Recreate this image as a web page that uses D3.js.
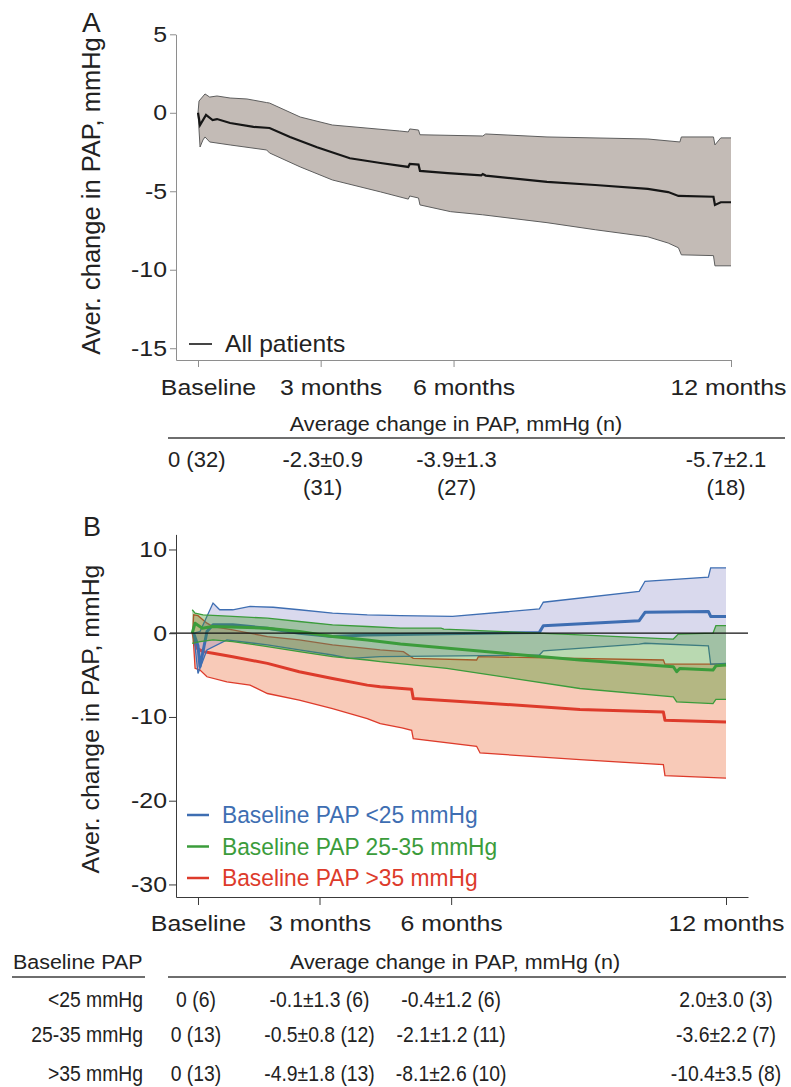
<!DOCTYPE html>
<html lang="en">
<head>
<meta charset="UTF-8">
<title>Average change in PAP</title>
<script src="https://cdn.jsdelivr.net/npm/d3@7"></script>
<style>
  body { margin: 0; background: #fff; }
  svg { display: block; }
</style>
</head>
<body>
<svg id="chart" width="791" height="1087"></svg>
<script>
// time axis, days since baseline
const tickDays = [0, 84, 175, 365];
const tickLabels = ["Baseline", "3 months", "6 months", "12 months"];
const yTicksA = [5, 0, -5, -10, -15];
const yTicksB = [10, 0, -10, -20, -30];

// panel A, all patients: [day, mmHg]
const allMean = [[0,0],[1.4,-0.78],[5.5,-0.14],[10,-0.46],[13,-0.4],[22,-0.65],[38,-0.9],[49,-0.97],[63,-1.54],[81.5,-2.2],[104,-2.9],[125,-3.2],[144,-3.45],[145,-3.26],[151,-3.3],[152,-3.7],[171,-3.84],[194,-3.98],[195,-3.9],[197,-4.0],[239,-4.4],[272,-4.6],[308,-4.85],[322,-5.05],[329,-5.3],[353,-5.35],[354,-5.87],[358,-5.7],[365,-5.7]];
const allUpper = [[0,0],[0.7,0.75],[4.8,1.2],[8,1.0],[13,1.07],[22,0.94],[33.5,0.88],[47,0.65],[49,0.62],[70,-0.27],[92,-0.78],[138,-1.16],[144,-1.22],[145,-1.03],[151,-1.1],[152,-1.4],[195,-1.48],[197,-1.35],[239,-1.54],[308,-1.67],[330,-1.86],[331,-1.54],[353,-1.54],[354,-2.05],[358,-1.6],[365,-1.6]];
const allLower = [[0,0],[1.4,-2.18],[3.4,-1.73],[4.8,-1.54],[8,-1.86],[22,-2.05],[47,-2.37],[49,-2.56],[70,-3.45],[92,-4.28],[125,-5.04],[144,-5.5],[145,-5.3],[151,-5.43],[152,-5.87],[173,-6.3],[195,-6.5],[239,-7.0],[272,-7.45],[308,-7.9],[322,-8.3],[329,-8.6],[331,-9.05],[353,-9.1],[354,-9.75],[365,-9.75]];

// panel B, by baseline PAP group: [day, mmHg]
const groupNames = ["Baseline PAP <25 mmHg", "Baseline PAP 25-35 mmHg", "Baseline PAP >35 mmHg"];
const lowUpper = [[-3,0],[1.4,0.2],[10.4,3.6],[15,2.8],[24,2.8],[36,3.2],[52,3.1],[70,2.8],[93,2.4],[117,2.2],[140,2.1],[176,2.0],[236,2.9],[238.7,3.7],[305,5.0],[309,6.2],[352.8,6.7],[354.4,7.8],[365,7.8]];
const lowMean = [[-3,0],[0,-1.5],[1.4,-4.0],[6.2,0.2],[10.4,1.0],[24,1.0],[48,0.6],[70,0],[93,-0.4],[117,-0.2],[236,0.1],[238.7,0.9],[305,1.5],[309,2.5],[352.8,2.6],[354.4,2.0],[365,2.0]];
const lowLower = [[-3,0],[0,-4.8],[6.2,-2.0],[20,-0.8],[48,-1.4],[70,-2.0],[93,-2.6],[105,-3.0],[126,-2.8],[236,-2.6],[238.7,-2.1],[305,-1.3],[309,-1.2],[352.8,-1.5],[354.4,-3.7],[365,-3.6]];
const midUpper = [[-4,2.8],[-2,2.4],[3.5,2.2],[24,2.0],[48,1.8],[70,1.4],[93,1.0],[117,0.8],[140,0.6],[168,0.6],[170,0.5],[264,-0.2],[328.6,-0.7],[332,-0.1],[356,0],[358,0.9],[365,0.9]];
const midMean = [[-4,0],[-2,1.2],[3,0.6],[10,0.8],[48,0.6],[70,0.2],[93,-0.4],[117,-0.8],[140,-1.3],[264,-3.2],[328.6,-4.0],[330.9,-4.6],[333,-4.2],[356,-4.4],[358,-3.9],[365,-3.8]];
const midLower = [[-4,-1.2],[1.4,-1.0],[10.4,-0.8],[24,-1.0],[48,-1.6],[70,-2.2],[93,-2.8],[117,-3.2],[126,-3.4],[172,-4.2],[264,-6.6],[328.6,-7.6],[330.9,-8.2],[356,-8.4],[358,-7.9],[365,-7.9]];
const highUpper = [[-3.5,0.5],[-3,2.2],[0,2.1],[6.2,1.2],[10.4,0.8],[24,0.4],[48,-0.4],[70,-0.8],[93,-1.4],[126,-2.0],[142,-2.2],[148.8,-3.0],[192.6,-3.2],[193.8,-2.8],[321.7,-3.2],[322.8,-3.7],[365,-3.7]];
const highMean = [[-3.5,0],[-0.7,-1.8],[3.5,-2.2],[10.4,-2.4],[24,-2.8],[48,-3.6],[70,-4.6],[93,-5.4],[117,-6.2],[126,-6.4],[141,-6.6],[147.7,-6.7],[148.8,-7.8],[195,-8.3],[264,-9.1],[321.7,-9.4],[322.8,-10.4],[365,-10.6]];
const highLower = [[-3.5,0],[-2,-4.2],[1.4,-4.4],[6.2,-5.2],[20,-5.8],[36,-6.2],[48,-7.2],[70,-8.0],[93,-9.0],[105,-9.6],[117,-10.2],[126,-10.8],[141,-11.3],[147.7,-11.6],[148.8,-12.6],[192.6,-13.5],[195,-14.3],[264,-15.1],[321.7,-15.7],[322.8,-17.0],[365,-17.3]];

// tables
const tableTitle = "Average change in PAP, mmHg (n)";
const tableAValues = ["0 (32)", "-2.3±0.9", "-3.9±1.3", "-5.7±2.1"];
const tableACounts = ["", "(31)", "(27)", "(18)"];
const rowHeadB = "Baseline PAP";
const rowLabelsB = ["<25 mmHg", "25-35 mmHg", ">35 mmHg"];
const tableB = [
  ["0 (6)", "-0.1±1.3 (6)", "-0.4±1.2 (6)", "2.0±3.0 (3)"],
  ["0 (13)", "-0.5±0.8 (12)", "-2.1±1.2 (11)", "-3.6±2.2 (7)"],
  ["0 (13)", "-4.9±1.8 (13)", "-8.1±2.6 (10)", "-10.4±3.5 (8)"]
];

const FONT = '"Liberation Sans", Arial, Helvetica, sans-serif';
const INK = '#222';
const svg = d3.select('#chart').attr('font-family', FONT);

// text with a horizontal stretch, like the source figure
function label(g, x, y, str, size, opts = {}) {
  const sx = opts.sx || 1;
  return g.append('text')
    .attr('transform', `translate(${x},${y}) scale(${sx},1)`)
    .attr('text-anchor', opts.anchor || 'start')
    .attr('font-size', size)
    .attr('fill', opts.fill || INK)
    .text(str);
}

function styleAxis(g, color, size, sx) {
  g.attr('font-family', FONT).attr('font-size', size).attr('color', color);
  g.selectAll('.tick text').attr('fill', INK).each(function () {
    const t = d3.select(this);
    const x = +t.attr('x') || 0;
    t.attr('x', null).attr('transform', `translate(${x},0) scale(${sx},1)`);
  });
}

const band = (upper, lower) => upper.concat(lower.slice().reverse());

// ---------- panel A ----------
const xA = d3.scaleLinear().domain([-15.07, 365]).range([176, 731]);
const yA = d3.scaleLinear().domain([-15.75, 5]).range([360, 34.3]);
const lineA = d3.line().x(d => xA(d[0])).y(d => yA(d[1]));
const gA = svg.append('g');

gA.append('path').attr('d', lineA(band(allUpper, allLower)) + 'Z').attr('fill', '#c3bbb6');
[allUpper, allLower].forEach(s => gA.append('path').attr('d', lineA(s))
  .attr('fill', 'none').attr('stroke', '#5e5e5e').attr('stroke-width', 1));
gA.append('path').attr('d', lineA(allMean)).attr('fill', 'none')
  .attr('stroke', '#161616').attr('stroke-width', 2.2);

const axAx = gA.append('g').attr('transform', 'translate(0,360)')
  .call(d3.axisBottom(xA).tickValues(tickDays).tickFormat((d, i) => tickLabels[i])
    .tickSize(7).tickPadding(12).tickSizeOuter(0));
styleAxis(axAx, '#8e8e8e', 22, 1.13);
// labels in A sit a little right of their ticks, last one kept inside the page
axAx.selectAll('.tick text').each(function (d) {
  const w = this.getComputedTextLength() * 1.13;
  const shift = Math.min(10, 786 - xA(d) - w / 2);
  d3.select(this).attr('transform', `translate(${shift},0) scale(1.13,1)`);
});
const ayAx = gA.append('g').attr('transform', 'translate(176,0)')
  .call(d3.axisLeft(yA).tickValues(yTicksA).tickFormat(d => String(d))
    .tickSize(6).tickPadding(3).tickSizeOuter(0));
styleAxis(ayAx, '#8e8e8e', 22, 1.13);

label(gA, 82, 32, 'A', 28);
gA.append('text').attr('transform', 'translate(100,196) rotate(-90)')
  .attr('text-anchor', 'middle').attr('font-size', 25.5).attr('fill', INK)
  .text('Aver. change in PAP, mmHg');

gA.append('line').attr('x1', 189).attr('x2', 212).attr('y1', 344).attr('y2', 344)
  .attr('stroke', '#161616').attr('stroke-width', 1.6);
label(gA, 225, 352, 'All patients', 23, { sx: 1.07 });

// table A
label(gA, 456, 431, tableTitle, 20, { anchor: 'middle', sx: 1.08 });
gA.append('line').attr('x1', 168).attr('x2', 785).attr('y1', 438).attr('y2', 438)
  .attr('stroke', '#6e6e6e').attr('stroke-width', 2);
const colOffA = [0, 2, 3, -5];
tableAValues.forEach((v, i) => {
  if (i === 0) { label(gA, 168, 467, v, 22); return; }
  const cx = xA(tickDays[i]) + colOffA[i];
  label(gA, cx, 467, v, 22, { anchor: 'middle' });
  label(gA, cx, 495, tableACounts[i], 22, { anchor: 'middle' });
});

// ---------- panel B ----------
const xB = d3.scaleLinear().domain([-15.2, 380.2]).range([176, 748]);
const yB = d3.scaleLinear().domain([-31.5, 11.8]).range([897, 534.4]);
const lineB = d3.line().x(d => xB(d[0])).y(d => yB(d[1]));
const gB = svg.append('g');

const groups = [
  { name: groupNames[0], upper: lowUpper, mean: lowMean, lower: lowLower, fill: 'rgb(120,120,190)', opacity: 0.28, stroke: '#3e6eb2' },
  { name: groupNames[1], upper: midUpper, mean: midMean, lower: midLower, fill: 'rgb(60,150,40)', opacity: 0.36, stroke: '#3b9c3b' },
  { name: groupNames[2], upper: highUpper, mean: highMean, lower: highLower, fill: '#f8cab8', opacity: 1, stroke: '#dd3b2b' }
];
// drawing order: red under blue under green
[groups[2], groups[0], groups[1]].forEach(s => {
  gB.append('path').attr('d', lineB(band(s.upper, s.lower)) + 'Z')
    .attr('fill', s.fill).attr('fill-opacity', s.opacity);
  [s.upper, s.lower].forEach(e => gB.append('path').attr('d', lineB(e))
    .attr('fill', 'none').attr('stroke', s.stroke).attr('stroke-width', 1.3));
  gB.append('path').attr('d', lineB(s.mean)).attr('fill', 'none')
    .attr('stroke', s.stroke).attr('stroke-width', 3).attr('stroke-linejoin', 'round');
});

gB.append('line').attr('x1', 170).attr('x2', 748).attr('y1', yB(0)).attr('y2', yB(0))
  .attr('stroke', '#111').attr('stroke-width', 1.2);

const bxAx = gB.append('g').attr('transform', 'translate(0,897)')
  .call(d3.axisBottom(xB).tickValues(tickDays).tickFormat((d, i) => tickLabels[i])
    .tickSize(8).tickPadding(10).tickSizeOuter(0));
styleAxis(bxAx, '#3a3a3a', 22, 1.13);
const byAx = gB.append('g').attr('transform', 'translate(176,0)')
  .call(d3.axisLeft(yB).tickValues(yTicksB).tickFormat(d => String(d))
    .tickSize(7).tickPadding(2).tickSizeOuter(0));
styleAxis(byAx, '#3a3a3a', 22, 1.13);

label(gB, 83, 536, 'B', 27);
gB.append('text').attr('transform', 'translate(99,719) rotate(-90)')
  .attr('text-anchor', 'middle').attr('font-size', 24.8).attr('fill', INK)
  .text('Aver. change in PAP, mmHg');

// legend B
groups.forEach((s, k) => {
  const ly = 815 + k * 31.5;
  gB.append('line').attr('x1', 187).attr('x2', 209).attr('y1', ly).attr('y2', ly)
    .attr('stroke', s.stroke).attr('stroke-width', 2.5);
  label(gB, 222, ly + 8, s.name, 23.5, { fill: s.stroke, sx: 0.97 });
});

// table B
label(gB, 13, 969, rowHeadB, 19.5, { sx: 1.1 });
gB.append('line').attr('x1', 12).attr('x2', 145).attr('y1', 977).attr('y2', 977)
  .attr('stroke', '#6e6e6e').attr('stroke-width', 2);
label(gB, 455, 969, tableTitle, 19.5, { anchor: 'middle', sx: 1.1 });
gB.append('line').attr('x1', 168).attr('x2', 786).attr('y1', 977).attr('y2', 977)
  .attr('stroke', '#6e6e6e').attr('stroke-width', 2);
const rowY = [1007, 1042, 1081];
rowLabelsB.forEach((r, j) => {
  label(gB, 143, rowY[j], r, 21.5, { anchor: 'end', sx: 0.9 });
  tableB[j].forEach((v, i) => {
    label(gB, xB(tickDays[i]) - (i === 0 ? 2 : 0), rowY[j], v, 21.5, { anchor: 'middle', sx: 0.9 });
  });
});
</script>
</body>
</html>
